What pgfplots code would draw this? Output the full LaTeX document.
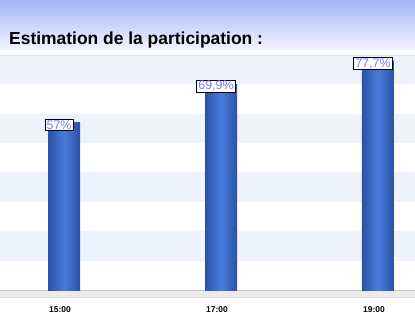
\documentclass[border=0pt]{standalone}
\usepackage{pgfplots}
\pgfplotsset{compat=1.18}
\usepackage{fontspec}
\setmainfont{Liberation Sans}
\definecolor{bgtop}{RGB}{165,181,250}
\definecolor{bgbot}{RGB}{242,245,255}
\definecolor{band}{RGB}{237,242,251}
\definecolor{gridc}{RGB}{222,229,242}
\definecolor{bardark}{RGB}{42,82,165}
\definecolor{barlight}{RGB}{72,124,218}
\definecolor{lblc}{RGB}{122,122,255}
\begin{document}
\begin{tikzpicture}[x=1bp,y=1bp]
\useasboundingbox (0,0) rectangle (415,330);
\fill[white] (0,0) rectangle (415,330);
\shade[top color=bgtop, bottom color=bgbot] (0,280) rectangle (415,330);
\foreach \i in {0,...,7}{
  \pgfmathparse{mod(\i,2)==1 ? 1 : 0}
  \ifnum\pgfmathresult=1
    \fill[band] (0,{40+\i*29.375}) rectangle (415,{40+(\i+1)*29.375});
  \else
    \fill[white] (0,{40+\i*29.375}) rectangle (415,{40+(\i+1)*29.375});
  \fi
}
\draw[gridc] (0,275) -- (415,275);
\fill[black!8] (0,33) rectangle (415,40);
\draw[black!22, line width=0.8bp] (0,40) -- (415,40);
\draw[black!12] (0,33) -- (415,33);
\node[anchor=base west, font=\bfseries\fontsize{17.5}{20}\selectfont, inner sep=0] at (9,286) {Estimation de la participation :};
\begin{axis}[
  at={(0bp,40bp)}, anchor=south west,
  scale only axis, width=415bp, height=235bp,
  xmin=-0.408, xmax=2.236, ymin=0, ymax=80,
  axis lines=none,
  clip=false,
  ytick={0,10,...,80},
  xtick={0,1,2},
  ymajorgrids, xmajorgrids,
  grid style={gridc, line width=0.6bp},
  ybar, bar width=32bp, bar shift=0pt,
  cyl/.style={draw=none, left color=bardark, right color=bardark, middle color=barlight,
  nodes near coords={\pgfmathprintnumber[use comma,fixed,precision=1,assume math mode=true]{\pgfplotspointmeta}\%},
  every node near coord/.append style={fill=white, draw=black, line width=0.8bp, text=lblc,
    font=\fontsize{12.5}{13}\selectfont, inner xsep=1.5bp, inner ysep=1.2bp, yshift=-8.5bp, xshift=-5bp}},
]
\addplot[cyl] coordinates {(0,57)};
\addplot[cyl] coordinates {(1,69.9)};
\addplot[cyl] coordinates {(2,77.7)};
\foreach \x/\l in {0/15:00,1/17:00,2/19:00}{
  \edef\tmp{\noexpand\node[font=\noexpand\bfseries\noexpand\fontsize{8.5}{10}\noexpand\selectfont, anchor=center] at (axis cs:\x,0) [yshift=-20bp, xshift=-4bp] {\l};}
  \tmp
}
\end{axis}
\end{tikzpicture}
\end{document}
